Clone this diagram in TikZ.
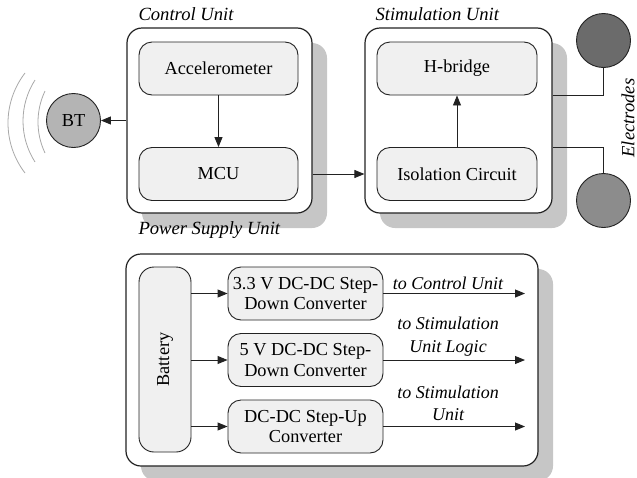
\documentclass[tikz,border=0pt]{standalone}
\usepackage{fontspec}
\setmainfont{Liberation Serif}
\usepackage{tikz}
\usetikzlibrary{positioning, arrows.meta, shadows, calc}
\definecolor{uLine}{HTML}{222222}
\definecolor{uShadow}{HTML}{C6C6C6}
\definecolor{uBlock}{HTML}{F0F0F0}
\definecolor{uBT}{HTML}{B4B4B4}
\definecolor{uElecA}{HTML}{6B6B6B}
\definecolor{uElecB}{HTML}{8C8C8C}
\definecolor{uWave}{HTML}{A8A8A8}
\tikzset{
  unitbox/.style={draw=uLine, line width=1.2pt, fill=white, rounded corners=15pt,
    drop shadow={shadow xshift=15pt, shadow yshift=-15pt, fill=uShadow, opacity=1}},
  block/.style={draw=uLine, line width=0.9pt, fill=uBlock, rounded corners=13pt,
    minimum width=159pt, minimum height=53pt, inner sep=1pt, align=center,
    font=\fontsize{18.3}{20.5}\selectfont},
  convbox/.style={block, minimum width=155pt},
  unitlabel/.style={font=\fontsize{18.6}{20}\selectfont\itshape, anchor=base west},
  outlabel/.style={font=\fontsize{18}{22.5}\selectfont\itshape, align=center},
  elec/.style={circle, draw=uLine, line width=0.9pt, minimum size=54pt, inner sep=0pt},
  wire/.style={draw=uLine, line width=0.9pt},
  arr/.style={wire, -{Triangle[length=10pt,width=8pt]}},
}

\begin{document}
\begin{tikzpicture}[x=1pt, y=-1pt]
  \useasboundingbox (0,0) rectangle (637,477);

  % unit frames
  \node[unitbox, minimum width=185pt, minimum height=185pt] (ctrl) at (219.5,120.5) {};
  \node[unitbox, minimum width=187pt, minimum height=185pt] (stim) at (458.5,120.5) {};
  \node[unitbox, minimum width=412pt, minimum height=212pt] (psu) at (332,360) {};
  \node[unitlabel] at (135,20) {Control Unit};
  \node[unitlabel] at (372,20) {Stimulation Unit};
  \node[unitlabel] at (135,234) {Power Supply Unit};

  % control unit
  \node[block] (acc) at (218.5,68.5) {Accelerometer};
  \node[block] (mcu) at (218.5,174) {MCU};
  \draw[arr] (acc) -- (mcu);

  % bluetooth
  \node[elec, fill=uBT, font=\fontsize{18.3}{20}\selectfont] (bt) at (73.5,120.5) {BT};
  \draw[arr] (ctrl.west) -- (bt);
  \draw[uWave, line width=0.8pt] (90,123) ++(142.4:82) arc[start angle=142.4, end angle=217.6, radius=82];
  \draw[uWave, line width=0.8pt] (99,121) ++(147.4:76) arc[start angle=147.4, end angle=212.6, radius=76];
  \draw[uWave, line width=0.8pt] (110,122) ++(154.5:72) arc[start angle=154.5, end angle=205.5, radius=72];

  % stimulation unit
  \node[block, minimum width=160pt] (hb) at (457,68.5) {H-bridge};
  \node[block, minimum width=160pt] (iso) at (457,174) {Isolation Circuit};
  \draw[arr] (iso) -- (hb);
  \draw[arr] (ctrl.east |- mcu) -- (stim.west |- mcu);

  % electrodes
  \node[elec, fill=uElecA] (elA) at (603.5,40.5) {};
  \node[elec, fill=uElecB] (elB) at (603.5,200.5) {};
  \draw[wire] (stim.east |- hb.south) -| (elA);
  \draw[wire] (stim.east |- iso.north) -| (elB);
  \node[font=\fontsize{18.6}{20}\selectfont\itshape, rotate=90] at (628,118) {Electrodes};

  % power supply
  \node[block, minimum width=52pt, minimum height=185pt, rounded corners=15pt] (bat) at (165,359.5) {};
  \node[font=\fontsize{18.3}{20}\selectfont, rotate=90] at (bat) {Battery};
  \node[convbox] (cA) at (305.5,293.5) {3.3 V DC-DC Step-\\Down Converter};
  \node[convbox] (cB) at (305.5,360) {5 V DC-DC Step-\\Down Converter};
  \node[convbox] (cC) at (305.5,426.5) {DC-DC Step-Up\\Converter};
  \foreach \c in {cA,cB,cC}{
    \draw[arr] (bat.east |- \c) -- (\c);
  }
  \coordinate (outA) at (525,293.5);
  \coordinate (outB) at (525,360);
  \coordinate (outC) at (525,426.5);
  \draw[arr] (cA) -- (outA);
  \draw[arr] (cB) -- (outB);
  \draw[arr] (cC) -- (outC);
  \node[outlabel] at (448,283) {to Control Unit};
  \node[outlabel] at (448,336.5) {to Stimulation\\Unit Logic};
  \node[outlabel] at (448,403.5) {to Stimulation\\Unit};
\end{tikzpicture}
\end{document}
